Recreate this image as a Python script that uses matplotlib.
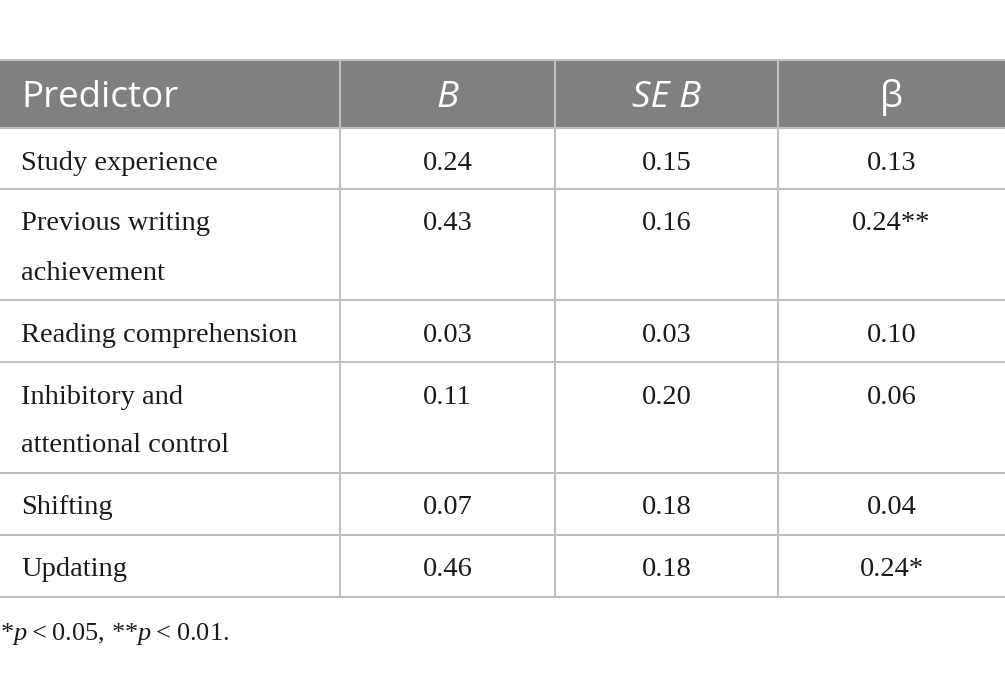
import matplotlib
matplotlib.use('Agg')
import matplotlib.pyplot as plt
from matplotlib.patches import Rectangle

# Table contents
headers = ['Predictor', 'B', 'SE B', 'β']
header_italic = [False, True, True, False]
predictors = ['Study experience', 'Previous writing\nachievement', 'Reading comprehension',
              'Inhibitory and\nattentional control', 'Shifting', 'Updating']
b_vals = ['0.24', '0.43', '0.03', '0.11', '0.07', '0.46']
se_vals = ['0.15', '0.16', '0.03', '0.20', '0.18', '0.18']
beta_vals = ['0.13', '0.24**', '0.10', '0.06', '0.04', '0.24*']

plt.rcParams['mathtext.fontset'] = 'custom'
plt.rcParams['mathtext.rm'] = 'Liberation Serif'
plt.rcParams['mathtext.it'] = 'Liberation Serif:italic'

W, H = 1005, 677
fig = plt.figure(figsize=(W / 100, H / 100), dpi=100)
ax = fig.add_axes([0, 0, 1, 1])
ax.set_xlim(0, W)
ax.set_ylim(H, 0)
ax.axis('off')

col_x = [0, 340, 555, 778, 1005]
row_y = [60, 128, 189, 300, 362, 473, 535, 597]
line_col = '#c0c0c0'
head_col = '#808080'
txt_col = '#1a1a1a'
body_fs = 20.5

# header band
ax.add_patch(Rectangle((0, row_y[0]), W, row_y[1] - row_y[0], color=head_col, lw=0))

# grid lines
for y in row_y:
    ax.plot([0, W], [y, y], color=line_col, lw=1.5)
for x in col_x[1:-1]:
    ax.plot([x, x], [row_y[0], row_y[-1]], color=line_col, lw=1.5)

# header text
hy = (row_y[0] + row_y[1]) / 2 + 4
for i, h in enumerate(headers):
    style = 'italic' if header_italic[i] else 'normal'
    if i == 0:
        x, ha = 21, 'left'
    else:
        x, ha = (col_x[i] + col_x[i + 1]) / 2, 'center'
    ax.text(x, hy, h, ha=ha, va='center', color='white', fontsize=26.5,
            family='Open Sans', style=style)

# body
for r in range(len(predictors)):
    ty = row_y[r + 1] + 35
    for k, ln in enumerate(predictors[r].split('\n')):
        ax.text(21, ty + k * 49, ln, ha='left', va='center', fontsize=body_fs,
                family='Liberation Serif', color=txt_col)
    for c, vals in enumerate([b_vals, se_vals, beta_vals]):
        cx = (col_x[c + 1] + col_x[c + 2]) / 2
        ax.text(cx, ty, vals[r], ha='center', va='center', fontsize=body_fs,
                family='Liberation Serif', color=txt_col)

# footnote
ax.text(0, 634, '*$\\mathit{p}$\u2009<\u20090.05, **$\\mathit{p}$\u2009<\u20090.01.',
        ha='left', va='center', fontsize=19, family='Liberation Serif', color=txt_col)

fig.savefig('out.png', dpi=100)
